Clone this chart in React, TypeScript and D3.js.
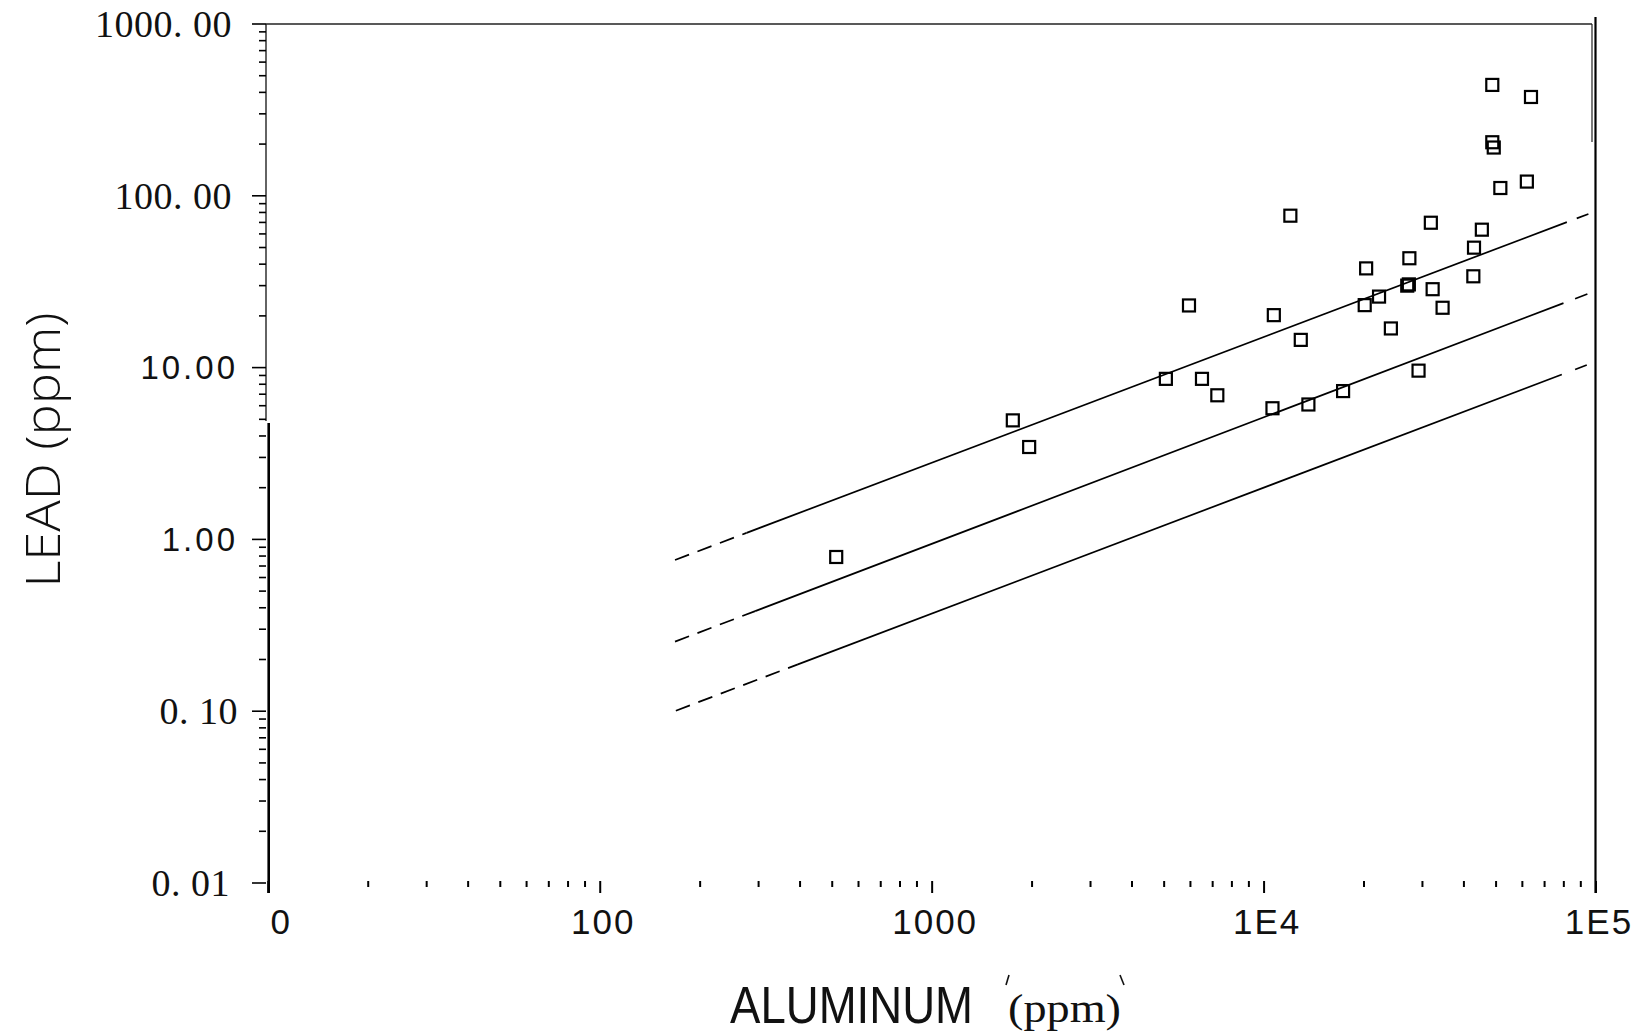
import React from "react";
import * as d3 from "d3";

// aluminum vs lead, one entry per sample (ppm)
const aluminum = [
  514, 1750, 1960, 5060, 5940, 6500, 7230, 10700, 10600, 12000, 12900,
  13600, 17300, 20100, 20300, 22200, 24100, 27000, 27300, 27400, 29200,
  31800, 32200, 34500, 42700, 42900, 45300, 48700, 48700, 49200, 51500,
  61900, 63700,
];
const lead = [
  0.79, 4.93, 3.45, 8.6, 23.0, 8.6, 6.9, 20.2, 5.8, 76.6, 14.5,
  6.1, 7.3, 23.1, 37.8, 25.9, 16.9, 30.0, 30.5, 43.3, 9.6,
  69.7, 28.6, 22.3, 34.0, 49.9, 63.5, 442, 205, 191, 111,
  121, 376,
];

// the three fitted lines (upper band, regression, lower band)
const fitStartX = [168, 168, 169];
const fitStartY = [0.759, 0.254, 0.1007];
const fitEndX = [94870, 94200, 93800];
const fitEndY = [78.4, 26.8, 10.35];
// where each line turns from dashed to solid and back
const solidFromX = [276, 293, 394];
const solidToX = [81700, 79800, 78900];
const tailFromX = [87500, 86500, 86500];

const xTickValues = [10, 100, 1000, 1e4, 1e5];
const xTickLabels = ["0", "100", "1000", "1E4", "1E5"];
const yTickValues = [1000, 100, 10, 1, 0.1, 0.01];
const yTickLabels = ["1000. 00", "100. 00", "10.00", "1.00", "0. 10", "0. 01"];

const W = 1638;
const H = 1034;

export default function App() {
  const x = d3.scaleLog().domain([10, 1e5]).range([268.3, 1596]);
  const y = d3.scaleLog().domain([0.01, 1000]).range([883, 24]);

  // point on a straight line in log-log space
  const along = (i: number, xv: number) => {
    const lx0 = Math.log10(fitStartX[i]);
    const lx1 = Math.log10(fitEndX[i]);
    const ly0 = Math.log10(fitStartY[i]);
    const ly1 = Math.log10(fitEndY[i]);
    const t = (Math.log10(xv) - lx0) / (lx1 - lx0);
    return Math.pow(10, ly0 + t * (ly1 - ly0));
  };

  const line = d3
    .line<number>()
    .x((d) => x(d[0]))
    .y((d) => y(d[1]));

  const seg = (i: number, a: number, b: number) =>
    line([
      [a, along(i, a)],
      [b, along(i, b)],
    ] as any);

  // minor log ticks
  const yMinor: number[] = [];
  [0.01, 0.1, 1, 10, 100].forEach((d) => {
    for (let k = 2; k < 10; k++) yMinor.push(d * k);
  });
  const xMinor: number[] = [];
  [10, 100, 1000, 1e4].forEach((d) => {
    for (let k = 2; k < 10; k++) xMinor.push(d * k);
  });

  const serif = "'Liberation Serif', 'DejaVu Serif', serif";
  const sans = "'Liberation Sans', Arial, sans-serif";

  return (
    <svg
      width={W}
      height={H}
      style={{ position: "absolute", left: 0, top: 0, display: "block", background: "#fff" }}
    >
      {/* frame */}
      <line x1={266} y1={24} x2={1592} y2={24} stroke="#222" strokeWidth={1.4} />
      <line x1={1592} y1={24} x2={1592} y2={142} stroke="#222" strokeWidth={1.2} />
      <line x1={1595.5} y1={17} x2={1595.5} y2={893} stroke="#000" strokeWidth={2.2} />
      <line x1={266} y1={24} x2={266} y2={421} stroke="#222" strokeWidth={1.4} />
      <line x1={268.7} y1={423} x2={268.7} y2={893} stroke="#000" strokeWidth={2.6} />

      {/* y ticks */}
      {yMinor.map((v, i) => (
        <line key={"ym" + i} x1={259} x2={266} y1={y(v)} y2={y(v)} stroke="#000" strokeWidth={1.6} />
      ))}
      {yTickValues.map((v, i) => (
        <line key={"yM" + i} x1={252} x2={266} y1={y(v)} y2={y(v)} stroke="#000" strokeWidth={1.6} />
      ))}
      {yTickLabels.map((s, i) => {
        const isSerif = s.indexOf(". ") >= 0;
        const right = s === "1000. 00" || s === "100. 00" ? 232 : s === "0. 01" ? 230 : 238;
        return (
          <text
            key={"yl" + i}
            x={right}
            y={y(yTickValues[i])}
            textAnchor="end"
            dominantBaseline="central"
            fontFamily={isSerif ? serif : sans}
            fontSize={isSerif ? 38 : 33}
            letterSpacing={isSerif ? 0.5 : 3}
            fill="#111"
          >
            {s}
          </text>
        );
      })}

      {/* x ticks */}
      {xMinor.map((v, i) => (
        <line key={"xm" + i} x1={x(v)} x2={x(v)} y1={881} y2={887} stroke="#000" strokeWidth={2} />
      ))}
      {xTickValues.map((v, i) => (
        <line key={"xM" + i} x1={x(v)} x2={x(v)} y1={881} y2={893} stroke="#000" strokeWidth={2} />
      ))}
      {xTickLabels.map((s, i) => (
        <text
          key={"xl" + i}
          x={x(xTickValues[i]) + (i === 0 ? 13 : 3)}
          y={934}
          textAnchor="middle"
          fontFamily={sans}
          fontSize={35}
          letterSpacing={2}
          fill="#111"
        >
          {s}
        </text>
      ))}

      {/* fitted lines */}
      {fitStartX.map((_, i) => (
        <g key={"fit" + i} fill="none" stroke="#000" strokeWidth={1.7}>
          <path d={seg(i, fitStartX[i], solidFromX[i]) || ""} strokeDasharray="15 9" />
          <path d={seg(i, solidFromX[i], solidToX[i]) || ""} />
          <path d={seg(i, tailFromX[i], fitEndX[i]) || ""} />
        </g>
      ))}

      {/* samples */}
      {aluminum.map((a, i) => (
        <rect
          key={"p" + i}
          x={x(a) - 6}
          y={y(lead[i]) - 6}
          width={12}
          height={12}
          fill="none"
          stroke="#000"
          strokeWidth={2.2}
        />
      ))}

      {/* axis titles */}
      <text
        x={730}
        y={1023}
        fontFamily={sans}
        fontSize={52}
        textLength={243}
        lengthAdjust="spacingAndGlyphs"
        fill="#111"
      >
        ALUMINUM
      </text>
      {/* stray marks over the unit, as in the print */}
      <line x1={1006} y1={985} x2={1009} y2={975} stroke="#111" strokeWidth={1.6} />
      <line x1={1120} y1={975} x2={1124} y2={985} stroke="#111" strokeWidth={1.6} />
      <text
        x={1008}
        y={1022}
        fontFamily={serif}
        fontSize={40}
        textLength={113}
        lengthAdjust="spacingAndGlyphs"
        fill="#111"
      >
        (ppm)
      </text>
      <text
        transform="translate(60,450) rotate(-90)"
        textAnchor="middle"
        fontFamily="'Open Sans', 'Liberation Sans', sans-serif"
        fontWeight={300}
        fontSize={48}
        textLength={275}
        lengthAdjust="spacingAndGlyphs"
        fill="#111"
      >
        LEAD (ppm)
      </text>
    </svg>
  );
}
